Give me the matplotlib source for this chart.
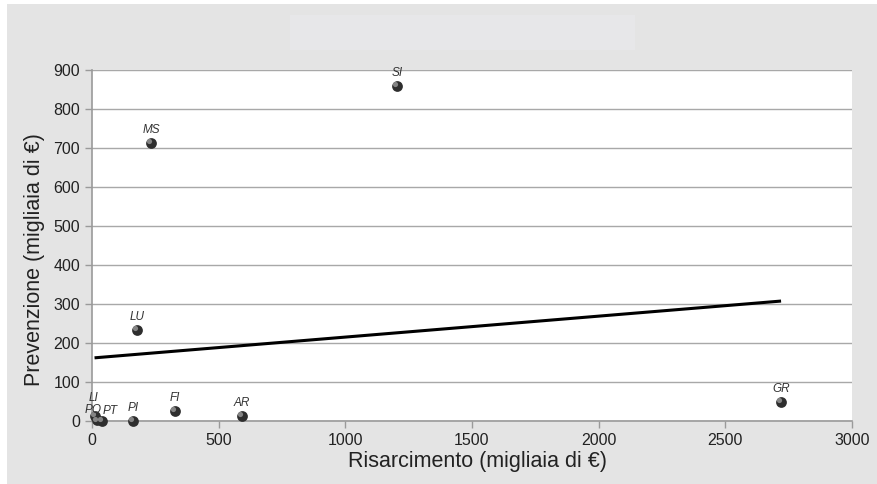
import numpy as np
import matplotlib
matplotlib.use("Agg")
import matplotlib.pyplot as plt
from matplotlib.patches import Rectangle
from matplotlib.transforms import offset_copy

plt.rcParams['font.family'] = ['Liberation Sans', 'DejaVu Sans']

provinces = ["SI", "MS", "LU", "FI", "AR", "PI", "GR", "LI", "PO", "PT"]
risarcimento = [1204, 233, 178, 328, 592, 162, 2720, 10, 20, 38]
prevenzione = [859, 713, 233, 26, 13, 0, 49, 14, 2, 0]
x_ticks = [0, 500, 1000, 1500, 2000, 2500, 3000]
y_ticks = [0, 100, 200, 300, 400, 500, 600, 700, 800, 900]

W, H = 877, 484
fig = plt.figure(figsize=(W / 100, H / 100), dpi=100)
fig.patch.set_facecolor("white")
fig.patches.append(Rectangle((7 / W, 0), 1, 1 - 4 / H, transform=fig.transFigure,
                             facecolor="#e4e4e4", edgecolor="none", zorder=-10))
fig.patches.append(Rectangle((290 / W, 1 - 50 / H), 345 / W, 35 / H, transform=fig.transFigure,
                             facecolor="#e7e7e9", edgecolor="none", zorder=-9))

ax = fig.add_axes([92 / W, 1 - 421 / H, 760 / W, 351 / H])
ax.set_facecolor("white")
x = np.array(risarcimento, dtype=float)
y = np.array(prevenzione, dtype=float)

ax.set_xlim(0, 3000)
ax.set_ylim(0, 900)
ax.set_xticks(x_ticks)
ax.set_yticks(y_ticks)
ax.yaxis.grid(True, color="#a8a8a8", linewidth=1.0)
ax.set_axisbelow(True)
for s in ["top", "right"]:
    ax.spines[s].set_visible(False)
for s in ["left", "bottom"]:
    ax.spines[s].set_color("#9a9a9a")
    ax.spines[s].set_linewidth(1.2)
ax.tick_params(axis="both", colors="#9a9a9a", labelcolor="#222222", labelsize=11.5,
               length=5, width=1)

# regression line
slope, intercept = np.polyfit(x, y, 1)
xs = np.linspace(x.min(), x.max(), 50)
ax.plot(xs, slope * xs + intercept, color="black", linewidth=2.2, zorder=3,
        solid_capstyle="butt")

# sphere-like markers
ax.scatter(x, y, s=60, color="#2e2e2e", zorder=4, clip_on=False, linewidths=0)
hl = offset_copy(ax.transData, fig=fig, x=-1.2, y=1.2, units="points")
ax.scatter(x, y, s=14, color="#9a9a9a", zorder=5, clip_on=False, linewidths=0,
           transform=hl, alpha=0.8)

label_offsets = {"LI": (-1, 8), "PO": (-3, 3), "PT": (6, 3)}
for p, xi, yi in zip(provinces, x, y):
    off = label_offsets.get(p, (0, 5))
    ax.annotate(p, (xi, yi), xytext=off, textcoords="offset points",
                ha="center", va="bottom", fontsize=8.5, style="italic",
                color="#333333", zorder=6, annotation_clip=False)

ax.set_xlabel("Risarcimento (migliaia di €)", fontsize=15.5, color="#222222")
ax.set_ylabel("Prevenzione (migliaia di €)", fontsize=15.5, color="#222222")
ax.xaxis.set_label_coords(0.507, -0.085)
ax.yaxis.set_label_coords(-0.062, 0.46)

fig.savefig("out.png", dpi=100, facecolor=fig.get_facecolor())
